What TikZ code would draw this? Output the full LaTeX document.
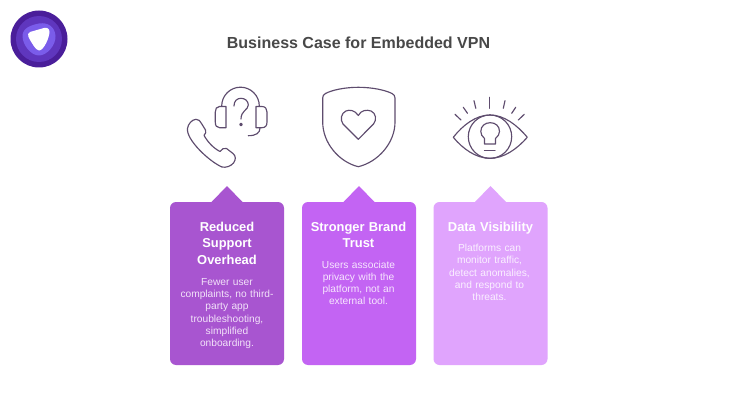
\documentclass[tikz,border=0pt]{standalone}
\usepackage{fontspec}
\setmainfont{Liberation Sans}
\definecolor{cardA}{HTML}{A855D0}
\definecolor{cardB}{HTML}{C364F3}
\definecolor{cardC}{HTML}{E0A4FD}
\definecolor{iconc}{HTML}{5E4C6E}
\definecolor{titlec}{HTML}{484848}
\definecolor{bodyA}{HTML}{F2E2F9}
\definecolor{bodyB}{HTML}{F7E6FE}
\definecolor{bodyC}{HTML}{FAF0FF}
\definecolor{logoA}{HTML}{4A1E9A}
\definecolor{logoB}{HTML}{5F36BE}
\definecolor{logoC}{HTML}{7A5CEA}
\tikzset{
  icon/.style={draw=iconc,line width=1.15pt,line join=round,line cap=round},
  cardtitle/.style={anchor=north,align=center,text=white,font=\fontsize{12.9}{16.6}\selectfont\bfseries,text width=112pt,inner sep=0pt},
  cardbody/.style={anchor=north,align=center,font=\fontsize{10.2}{12.3}\selectfont,text width=112pt,inner sep=0pt},
}
\newcommand{\cardshape}[2]{%
  \fill[#2] (#1+6,202) -- (#1+41.5,202) -- (#1+57,186) -- (#1+72.5,202) -- (#1+108,202)
    .. controls (#1+111.3,202) and (#1+114,204.7) .. (#1+114,208) -- (#1+114,359)
    .. controls (#1+114,362.3) and (#1+111.3,365) .. (#1+108,365) -- (#1+6,365)
    .. controls (#1+2.7,365) and (#1,362.3) .. (#1,359) -- (#1,208)
    .. controls (#1,204.7) and (#1+2.7,202) .. (#1+6,202) -- cycle;}
\begin{document}
\begin{tikzpicture}[x=1pt,y=-1pt]
\useasboundingbox (0,0) rectangle (740,420);
\fill[white] (0,0) rectangle (740,420);
% logo
\fill[logoA] (39,39) circle (28.5);
\fill[logoB] (39,39) circle (23);
\fill[logoC] (39,23.5) .. controls (48,22) and (55,27) .. (55.5,36)
  .. controls (56,45) and (47,55.5) .. (39,55.5)
  .. controls (31,55.5) and (22.5,45) .. (22.5,36)
  .. controls (22.5,28) and (31,25) .. (39,23.5) -- cycle;
\fill[white] (30,32) -- (44,28) .. controls (47.5,27.2) and (49.5,29) .. (49.5,32)
  .. controls (49.5,37) and (44,50.5) .. (39,50.5)
  .. controls (36,50.5) and (31,42) .. (28.5,37)
  .. controls (27.5,35) and (28,33) .. (30,32) -- cycle;
% title
\node[anchor=center,inner sep=0pt,text=titlec,font=\fontsize{16}{18}\selectfont\bfseries] (title) at (358.5,43) {Business Case for Embedded VPN};
% phone + headset icon
\draw[icon] (221.7,106) arc[start angle=180,end angle=360,radius=18.8];
\draw[icon] (226,106.5) -- (219.5,106.5) .. controls (216.5,106.5) and (215.3,109) .. (215.3,112)
  -- (215.3,122) .. controls (215.3,125.5) and (216.5,127.7) .. (219.5,127.7) -- (226,127.7) -- cycle;
\draw[icon] (256,106.5) -- (262,106.5) .. controls (265.5,106.5) and (267,109) .. (267,112)
  -- (267,122) .. controls (267,125.5) and (265.5,127.7) .. (262,127.7) -- (256,127.7) -- cycle;
\draw[icon] (260,128) .. controls (260,133) and (256,135.7) .. (248.3,135.7);
\draw[icon] (234,106) .. controls (234,101) and (237,98.3) .. (241,98.3)
  .. controls (245,98.3) and (248.3,101) .. (248.3,105)
  .. controls (248.3,110) and (241,110.5) .. (241,119);
\draw[icon] (241,124.5) circle (1.3);
\draw[icon] (187.5,128.5) .. controls (188,124) and (192,119.5) .. (196,119.3)
  .. controls (199,119.3) and (200,121) .. (201.5,123.5)
  -- (205.5,130) .. controls (206.5,132) and (205.5,134) .. (204,135.3)
  .. controls (207,141) and (213,148) .. (220,151.5)
  .. controls (222,149) and (224,147.5) .. (226.5,148.5)
  -- (233,153.5) .. controls (236,156) and (236,159.5) .. (233.5,163)
  .. controls (231,166) and (226,168) .. (222,167)
  .. controls (210,162) and (186,140) .. (187.5,128.5) -- cycle;
% shield icon
\draw[icon] (358.3,87.3) .. controls (372,87.3) and (385,90) .. (392,93.5)
  .. controls (394,94.5) and (395,96) .. (395,98)
  -- (395,122) .. controls (395,143) and (378,162) .. (358.3,166.7)
  .. controls (339,162) and (322.7,143) .. (322.7,122)
  -- (322.7,98) .. controls (322.7,96) and (323.5,94.5) .. (325.5,93.5)
  .. controls (332,90) and (345,87.3) .. (358.3,87.3) -- cycle;
\draw[icon] (358.3,115.5) .. controls (355,110) and (349,109.5) .. (346,111)
  .. controls (341,113) and (340,120) .. (343,124)
  -- (358.3,139.3) -- (373.5,124)
  .. controls (377,120) and (376,113) .. (371,111)
  .. controls (367,109.5) and (361,110) .. (358.3,115.5) -- cycle;
% eye icon
\draw[icon] (453.3,137.3) .. controls (463,125) and (476,115) .. (490,115)
  .. controls (504,115) and (517,125) .. (527.3,137.3)
  .. controls (517,149) and (504,158.3) .. (490,158.3)
  .. controls (476,158.3) and (463,149) .. (453.3,137.3) -- cycle;
\draw[icon] (490,136.7) circle (21.7);
\draw[icon] (484.5,144) -- (484.5,138.5) .. controls (482,136.5) and (480.8,134) .. (480.8,131.5)
  .. controls (480.8,126) and (485,122.7) .. (490.3,122.7)
  .. controls (495.5,122.7) and (499.5,126) .. (499.5,131.5)
  .. controls (499.5,134) and (498,136.5) .. (495.5,138.5) -- (495.5,144) -- cycle;
\draw[icon] (484.5,150.7) -- (495,150.7);
\draw[icon] (489.5,97.3) -- (489.5,108.3);
\draw[icon] (474,100.7) -- (475.8,108.3);
\draw[icon] (505,100.7) -- (503.3,108.3);
\draw[icon] (463.3,107.3) -- (467.5,113.3);
\draw[icon] (515.7,107.3) -- (511.7,113.3);
\draw[icon] (455,114.3) -- (461,120);
\draw[icon] (524.3,114.3) -- (518.3,120);
% cards
\cardshape{170}{cardA}
\cardshape{302}{cardB}
\cardshape{433.5}{cardC}
\node[cardtitle] (t1) at (227,221.5) {Reduced\\Support\\Overhead};
\node[cardbody,text=bodyA] (b1) at (227,278) {Fewer user\\complaints, no third-\\party app\\troubleshooting,\\simplified\\onboarding.};
\node[cardtitle] (t2) at (358.5,221.5) {Stronger Brand\\Trust};
\node[cardbody,text=bodyB] (b2) at (358.5,260.5) {Users associate\\privacy with the\\platform, not an\\external tool.};
\node[cardtitle] (t3) at (490.5,221.5) {Data Visibility};
\node[cardbody,text=bodyC] (b3) at (489.5,244) {Platforms can\\monitor traffic,\\detect anomalies,\\and respond to\\threats.};
\end{tikzpicture}
\end{document}
